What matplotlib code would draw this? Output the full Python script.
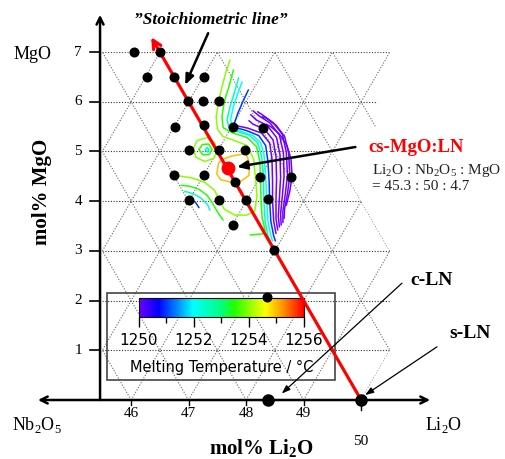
import numpy as np
import matplotlib
matplotlib.use("Agg")
import matplotlib.pyplot as plt
from matplotlib.colors import LinearSegmentedColormap, Normalize
from matplotlib.cm import ScalarMappable
from matplotlib.patches import Polygon, Rectangle

plt.rcParams['font.family'] = ['Liberation Serif', 'DejaVu Sans']
plt.rcParams['mathtext.fontset'] = 'custom'
plt.rcParams['mathtext.rm'] = 'Liberation Serif'
plt.rcParams['mathtext.bf'] = 'Liberation Serif:bold'

# measured compositions (mol% Li2O, mol% MgO)
dot_li2o = [46.05, 46.50, 46.27, 46.75, 47.27, 46.99, 47.25, 47.53, 46.77, 47.26, 47.78, 48.29,
            47.01, 47.53, 47.98, 47.80, 46.74, 47.26, 48.24, 48.78, 47.01, 47.52, 47.99, 48.38,
            47.78, 48.49, 48.37]
dot_mgo = [7.0, 7.0, 6.5, 6.5, 6.5, 6.02, 6.02, 6.01, 5.5, 5.53, 5.5, 5.47,
           5.03, 5.03, 5.03, 4.39, 4.52, 4.52, 4.49, 4.48, 4.02, 4.02, 4.02, 4.04,
           3.53, 3.02, 2.07]

cs_point = (47.68, 4.66)
ln_li2o = [48.38, 50.0]   # c-LN, s-LN
ln_mgo = [0.0, 0.0]

stoich_li2o = [50.0, 46.35]
stoich_mgo = [0.0, 7.3]

# melting temperature contours: (level, [(Li2O, MgO), ...])
contours = [
    (1254.0, [(46.82, 4.51), (47.05, 4.47), (47.28, 4.38), (47.45, 4.22), (47.55, 4.0), (47.62, 3.84),
              (47.80, 3.72), (48.01, 3.72), (48.15, 3.80), (48.19, 4.1), (48.16, 4.5), (48.13, 4.85),
              (48.02, 5.12), (47.80, 5.22), (47.60, 5.30), (47.50, 5.45), (47.48, 5.7), (47.52, 6.0),
              (47.58, 6.3), (47.65, 6.6), (47.72, 6.84)]),
    (1253.5, [(47.78, 6.64), (47.70, 6.3), (47.62, 6.0), (47.58, 5.7), (47.60, 5.48), (47.75, 5.38),
              (48.02, 5.28), (48.18, 5.1), (48.24, 4.8), (48.25, 4.4), (48.26, 4.0), (48.28, 3.65),
              (48.33, 3.42), (48.28, 3.34), (48.07, 3.32)]),
    (1252.5, [(47.87, 6.48), (47.80, 6.2), (47.72, 5.9), (47.67, 5.65), (47.70, 5.48), (47.85, 5.40),
              (48.05, 5.33), (48.20, 5.18), (48.27, 4.9), (48.30, 4.5), (48.31, 4.0), (48.33, 3.6),
              (48.38, 3.3), (48.42, 3.2)]),
    (1252.0, [(47.93, 6.40), (47.85, 6.15), (47.78, 5.9), (47.73, 5.65), (47.76, 5.48), (47.92, 5.40),
              (48.12, 5.32), (48.25, 5.18), (48.31, 4.95), (48.34, 4.5), (48.36, 4.0), (48.38, 3.6),
              (48.43, 3.3), (48.46, 3.2)]),
    (1251.0, [(48.04, 6.24), (47.95, 6.02), (47.86, 5.78), (47.80, 5.58), (47.82, 5.48), (48.01, 5.42),
              (48.22, 5.32), (48.34, 5.12), (48.38, 4.8), (48.40, 4.4), (48.41, 4.0), (48.43, 3.6),
              (48.48, 3.3), (48.51, 3.2)]),
    (1250.0, [(47.83, 5.52), (48.03, 5.47), (48.27, 5.37), (48.41, 5.17), (48.45, 4.85), (48.46, 4.4),
              (48.46, 4.0), (48.48, 3.6), (48.52, 3.35)]),
    (1249.5, [(48.05, 5.62), (48.12, 5.55), (48.32, 5.45), (48.47, 5.23), (48.52, 4.9), (48.53, 4.45),
              (48.52, 4.05), (48.52, 3.65), (48.55, 3.42)]),
    (1249.0, [(48.08, 5.74), (48.17, 5.64), (48.37, 5.52), (48.53, 5.28), (48.59, 4.93), (48.60, 4.48),
              (48.58, 4.08), (48.56, 3.7), (48.58, 3.48)]),
    (1248.5, [(48.12, 5.82), (48.22, 5.72), (48.42, 5.57), (48.58, 5.33), (48.65, 4.96), (48.66, 4.5),
              (48.63, 4.1), (48.60, 3.75), (48.61, 3.52)]),
    (1248.0, [(48.20, 5.80), (48.28, 5.74), (48.47, 5.58), (48.63, 5.35), (48.70, 4.98), (48.72, 4.52),
              (48.68, 4.13), (48.64, 3.8), (48.64, 3.57)]),
    (1247.5, [(48.28, 5.70), (48.35, 5.67), (48.52, 5.53), (48.67, 5.3), (48.74, 4.97), (48.76, 4.52),
              (48.72, 4.15), (48.67, 3.85), (48.66, 3.65)]),
    (1247.0, [(48.35, 5.55), (48.43, 5.50), (48.58, 5.35), (48.71, 5.12), (48.78, 4.85), (48.80, 4.5),
              (48.76, 4.2), (48.70, 3.92)]),
    # local minimum near 47.3 / 5.0
    (1254.0, [(47.08, 5.05), (47.15, 5.22), (47.32, 5.28), (47.45, 5.18), (47.50, 5.02), (47.44, 4.86),
              (47.28, 4.80), (47.13, 4.88), (47.08, 5.05)]),
    (1253.5, [(47.18, 5.04), (47.24, 5.14), (47.35, 5.15), (47.41, 5.04), (47.36, 4.94), (47.25, 4.93),
              (47.18, 5.04)]),
    (1252.5, [(47.29, 5.03), (47.32, 5.08), (47.36, 5.04), (47.33, 4.99), (47.29, 5.03)]),
    # maximum around cs-MgO:LN
    (1255.0, [(47.58, 4.84), (47.76, 4.91), (48.00, 4.96), (48.06, 4.76), (48.05, 4.52), (47.92, 4.41),
              (47.76, 4.38), (47.56, 4.43), (47.49, 4.55), (47.52, 4.76), (47.58, 4.84)]),
    (1255.0, [(47.45, 5.95), (47.46, 6.04), (47.51, 6.05)]),
    # lower left
    (1253.5, [(46.87, 4.32), (47.02, 4.30), (47.18, 4.24), (47.32, 4.12), (47.42, 3.95), (47.52, 3.75),
              (47.60, 3.62)]),
    (1252.5, [(46.93, 4.20), (47.08, 4.15), (47.22, 4.06), (47.33, 3.93), (47.37, 3.82)]),
    (1251.0, [(47.05, 4.05), (47.13, 3.96), (47.18, 3.87)]),
]

cbar_ticks = [1250, 1252, 1254, 1256]
cbar_minor = [1251, 1253, 1255]

cmap = LinearSegmentedColormap.from_list('melt', [
    (0.00, '#7000ff'), (0.12, '#0000ff'), (0.33, '#00ffff'), (0.50, '#00ff80'),
    (0.58, '#20ff00'), (0.70, '#b0ff00'), (0.77, '#ffff00'), (0.87, '#ff9900'),
    (1.00, '#ff0000')])
norm = Normalize(1250, 1256, clip=True)

fig = plt.figure(figsize=(5.06, 4.59), dpi=100)
ax = fig.add_axes([0, 0, 1, 1])
ax.set_xlim(43.72, 52.52)
ax.set_ylim(-1.187, 8.048)
ax.axis('off')

# triangular grid
clip = Polygon([(45.5, 0), (45.5, 7), (50.5, 7), (50.28, 6.0), (50.28, 5.5), (49.5, 5.0),
                (50, 4), (50.5, 3), (50.5, 1), (50, 0)], closed=True, transform=ax.transData)
yy = np.array([0, 7])
dots = (0, (1, 1.5))
grid_lines = []
for k in range(1, 8):
    grid_lines.append(ax.plot([45.5, 51], [k, k], ls=dots, color='#333', lw=0.8)[0])
for c in range(44, 55):
    grid_lines.append(ax.plot(c - 0.5 * yy, yy, ls=dots, color='#666', lw=0.8)[0])
for c in range(41, 52):
    grid_lines.append(ax.plot(c + 0.5 * yy, yy, ls=dots, color='#666', lw=0.8)[0])
for ln in grid_lines:
    ln.set_clip_path(clip)

# contours
for lev, pts in contours:
    xs, ys = zip(*pts)
    ax.plot(xs, ys, color=cmap(norm(lev)), lw=1.1, zorder=3, solid_capstyle='round')

# stoichiometric line
ax.annotate('', xy=(stoich_li2o[1], stoich_mgo[1]), xytext=(stoich_li2o[0], stoich_mgo[0]),
            arrowprops=dict(arrowstyle='->,head_length=0.6,head_width=0.3', color='red', lw=2.3,
                            shrinkA=0, shrinkB=0), zorder=4)

# axes with arrows
ax.annotate('', xy=(45.46, 7.75), xytext=(45.46, 0),
            arrowprops=dict(arrowstyle='->,head_length=0.5,head_width=0.25', color='black', lw=1.8,
                            shrinkA=0, shrinkB=0))
ax.annotate('', xy=(44.38, 0), xytext=(51.2, 0),
            arrowprops=dict(arrowstyle='<->,head_length=0.5,head_width=0.25', color='black', lw=1.8,
                            shrinkA=0, shrinkB=0))
for k in range(1, 8):
    ax.plot([45.29, 45.46], [k, k], color='black', lw=1.2)
    ax.text(45.08, k, str(k), ha='center', va='center', fontsize=11)
for k in range(46, 50):
    ax.plot([k, k], [0, -0.1], color='black', lw=1.0)
    ax.text(k, -0.27, str(k), ha='center', va='center', fontsize=11)
ax.plot([50, 50], [0, -0.2], color='black', lw=1.0)
ax.text(50, -0.83, '50', ha='center', va='center', fontsize=11)

ax.text(44.28, 6.96, 'MgO', ha='center', va='center', fontsize=13)
ax.text(44.37, -0.50, r'Nb$_2$O$_5$', ha='center', va='center', fontsize=13)
ax.text(51.43, -0.50, r'Li$_2$O', ha='center', va='center', fontsize=13)
ax.text(48.26, -0.97, r'mol% Li$_\mathbf{2}$O', ha='center', va='center', fontsize=15, fontweight='bold')
ax.text(44.45, 4.19, 'mol% MgO', ha='center', va='center', fontsize=15, fontweight='bold', rotation=90)

# measurement points
ax.plot(dot_li2o, dot_mgo, 'o', color='black', ms=6.2, zorder=6)
ax.plot(ln_li2o, ln_mgo, 'o', color='black', ms=8, zorder=6)
ax.plot(*cs_point, 'o', color='red', ms=9, zorder=6)

# annotations
ax.text(47.39, 7.65, '\u201dStoichiometric line\u201d', ha='center', va='center', fontsize=12.5,
        fontweight='bold', fontstyle='italic')
ax.annotate('', xy=(46.94, 6.34), xytext=(47.34, 7.38),
            arrowprops=dict(arrowstyle='-|>,head_length=0.6,head_width=0.25', color='black', lw=1.8,
                            shrinkA=0, shrinkB=0), zorder=5)
ax.text(50.96, 5.09, 'cs-MgO:LN', ha='center', va='center', fontsize=13.5, fontweight='bold', color='red')
ax.annotate('', xy=(47.84, 4.69), xytext=(49.90, 5.09),
            arrowprops=dict(arrowstyle='-|>,head_length=0.6,head_width=0.25', color='black', lw=1.8,
                            shrinkA=0, shrinkB=0), zorder=5)
ax.text(50.19, 4.61, r'Li$_2$O : Nb$_2$O$_5$ : MgO', ha='left', va='center', fontsize=11, color='#222')
ax.text(50.19, 4.29, '= 45.3 : 50 : 4.7', ha='left', va='center', fontsize=11, color='#222')
ax.text(51.22, 2.41, 'c-LN', ha='center', va='center', fontsize=14, fontweight='bold')
ax.annotate('', xy=(48.62, 0.13), xytext=(50.71, 2.35),
            arrowprops=dict(arrowstyle='-|>,head_length=0.5,head_width=0.18', color='black', lw=0.9,
                            shrinkA=0, shrinkB=0), zorder=5)
ax.text(51.90, 1.33, 's-LN', ha='center', va='center', fontsize=14, fontweight='bold')
ax.annotate('', xy=(50.07, 0.10), xytext=(51.32, 1.07),
            arrowprops=dict(arrowstyle='-|>,head_length=0.5,head_width=0.18', color='black', lw=0.9,
                            shrinkA=0, shrinkB=0), zorder=5)

# colour scale box
ax.add_patch(Rectangle((45.58, 0.40), 3.97, 1.75, fill=False, edgecolor='#444', lw=1.2, zorder=2))
cax = ax.inset_axes([46.13, 1.68, 2.87, 0.37], transform=ax.transData)
cax.set_zorder(3)
cb = fig.colorbar(ScalarMappable(norm=Normalize(1250, 1256), cmap=cmap), cax=cax,
                  orientation='horizontal', ticks=cbar_ticks)
cb.outline.set_linewidth(0.8)
cax.set_xticks(cbar_minor, minor=True)
cax.tick_params(which='major', length=7, width=1, pad=5, labelsize=11)
cax.tick_params(which='minor', length=4, width=1)
for lab in cax.get_xticklabels():
    lab.set_fontfamily('DejaVu Sans')
ax.text(47.57, 0.66, 'Melting Temperature / \u00b0C', ha='center', va='center', fontsize=10.5,
        family='DejaVu Sans')

fig.savefig('out.png', dpi=100)
